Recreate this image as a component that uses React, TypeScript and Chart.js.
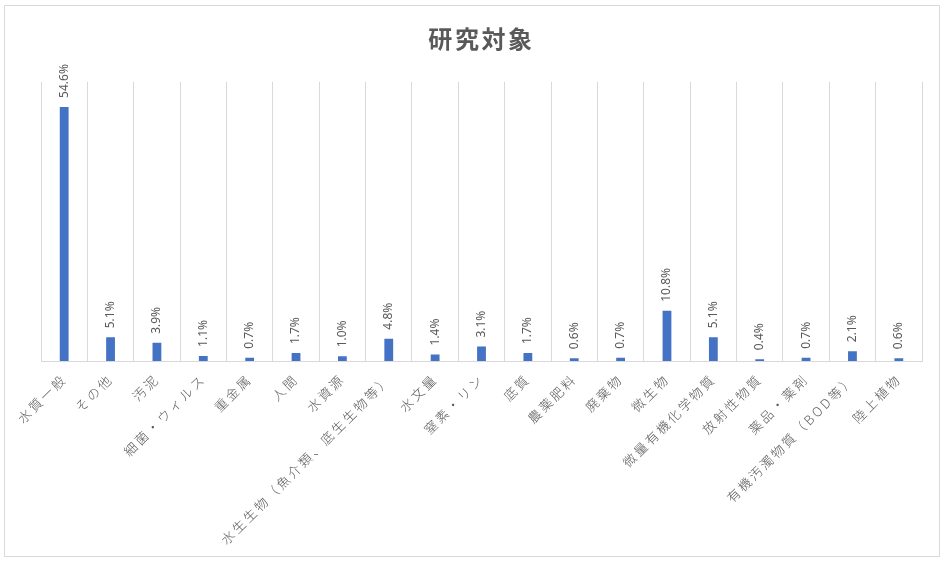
import React, { useEffect, useRef } from 'react';
import { Chart, registerables } from 'chart.js';

Chart.register(...registerables);

// 研究対象のカテゴリと割合(%)
const categories = [
  '水質一般',
  'その他',
  '汚泥',
  '細菌・ウィルス',
  '重金属',
  '人間',
  '水資源',
  '水生生物（魚介類、底生生物等）',
  '水文量',
  '窒素・リン',
  '底質',
  '農薬肥料',
  '廃棄物',
  '微生物',
  '微量有機化学物質',
  '放射性物質',
  '薬品・薬剤',
  '有機汚濁物質（BOD等）',
  '陸上植物',
];

const shares = [54.6, 5.1, 3.9, 1.1, 0.7, 1.7, 1.0, 4.8, 1.4, 3.1, 1.7, 0.6, 0.7, 10.8, 5.1, 0.4, 0.7, 2.1, 0.6];

const TEXT_COLOR = '#595959';
const GRID_COLOR = '#d9d9d9';
const BAR_COLOR = '#4472c4';

// 文字間隔(Excel風)
const spacingPlugin = {
  id: 'letterSpacing',
  beforeUpdate(chart: any) {
    chart.ctx.letterSpacing = '2.6px';
  },
  beforeDraw(chart: any) {
    chart.ctx.letterSpacing = '2.6px';
  },
};

// 棒の上に縦書きの値ラベル
const valueLabelPlugin = {
  id: 'valueLabels',
  afterDatasetsDraw(chart: any) {
    const ctx = chart.ctx;
    const meta = chart.getDatasetMeta(0);
    ctx.save();
    ctx.letterSpacing = '0px';
    ctx.fillStyle = TEXT_COLOR;
    ctx.font = '12px "Noto Sans", sans-serif';
    ctx.textAlign = 'left';
    ctx.textBaseline = 'middle';
    meta.data.forEach((bar: any, i: number) => {
      ctx.save();
      ctx.translate(bar.x, bar.y - 9);
      ctx.rotate(-Math.PI / 2);
      ctx.fillText(shares[i].toFixed(1) + '%', 0, 0);
      ctx.restore();
    });
    ctx.restore();
  },
};

const App: React.FC = () => {
  const canvasRef = useRef<HTMLCanvasElement>(null);

  useEffect(() => {
    if (!canvasRef.current) return;
    const chart = new Chart(canvasRef.current, {
      type: 'bar',
      data: {
        labels: categories,
        datasets: [
          {
            data: shares,
            backgroundColor: BAR_COLOR,
            barPercentage: 0.19,
            categoryPercentage: 1,
          },
        ],
      },
      options: {
        responsive: true,
        maintainAspectRatio: false,
        animation: false,
        layout: { padding: { left: 36, right: 17, top: 0, bottom: 0 } },
        plugins: {
          legend: { display: false },
          tooltip: { enabled: false },
          title: {
            display: true,
            text: '研究対象',
            color: TEXT_COLOR,
            font: { family: '"Noto Sans CJK JP", sans-serif', size: 24, weight: 'bold' },
            padding: { top: 18, bottom: 29 },
          },
        },
        scales: {
          x: {
            grid: { color: GRID_COLOR, drawTicks: false, offset: true },
            border: { color: GRID_COLOR },
            ticks: {
              color: TEXT_COLOR,
              font: { family: '"Noto Sans CJK JP", sans-serif', size: 13, weight: 300 },
              maxRotation: 45,
              minRotation: 45,
              autoSkip: false,
              padding: 10,
            },
            afterFit(scale: any) {
              scale.height = 195;
            },
          },
          y: {
            display: false,
            min: 0,
            max: 60,
          },
        },
      },
      plugins: [spacingPlugin, valueLabelPlugin],
    });
    return () => chart.destroy();
  }, []);

  return (
    <div
      style={{
        position: 'absolute',
        left: 4,
        top: 5,
        width: 936,
        height: 552,
        border: `1px solid ${GRID_COLOR}`,
        boxSizing: 'border-box',
        background: '#fff',
      }}
    >
      <div style={{ position: 'relative', width: '100%', height: '100%' }}>
        <canvas ref={canvasRef} />
      </div>
    </div>
  );
};

export default App;
